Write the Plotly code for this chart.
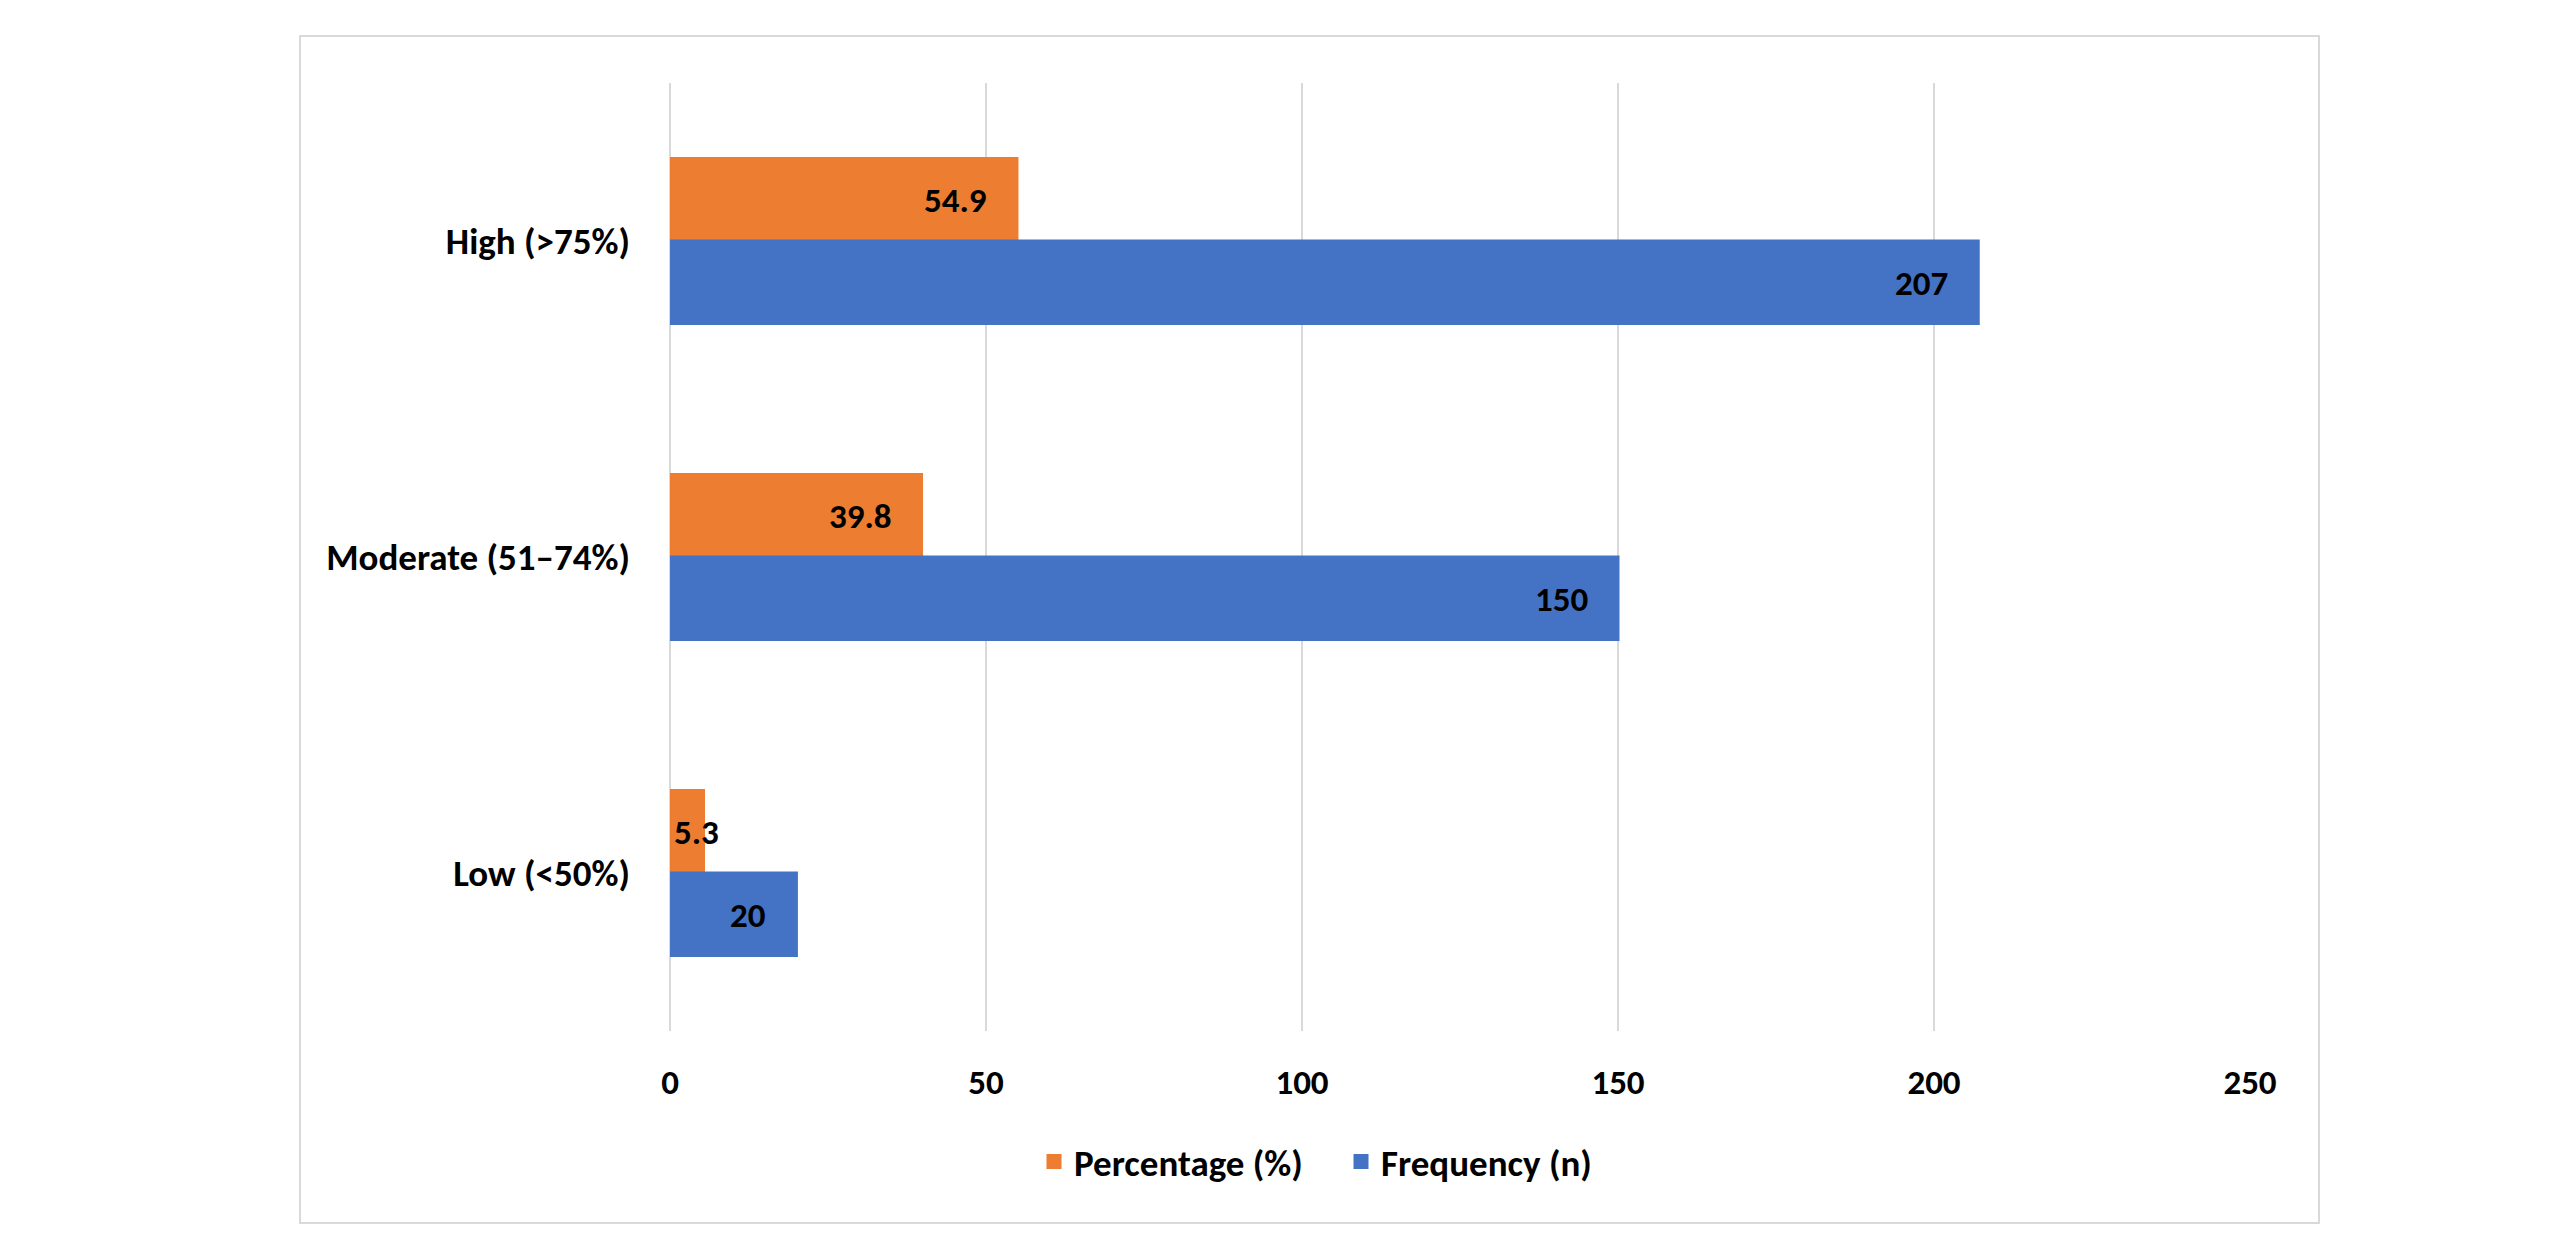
import plotly.graph_objects as go

categories = ["High (>75%)", "Moderate (51–74%)", "Low (<50%)"]
percentage = [54.9, 39.8, 5.3]
frequency = [207, 150, 20]
pct_labels = ["54.9", "39.8", "5.3"]
freq_labels = ["207", "150", "20"]
x_ticks = [0, 50, 100, 150, 200, 250]

ORANGE = "#ED7D31"
BLUE = "#4472C4"
GRID = "#D9D9D9"
FONT = "Carlito, Lato, sans-serif"
FS_TXT = 37
FS_NUM = 35

# page has an 8px body margin; work in page pixels and convert
OFF = 8
W, H = 2560 - OFF, 1260 - 2 * OFF
L, R, T, B = 670 - OFF, 2250 - OFF, 83 - OFF, 1031 - OFF  # plot area in figure px

fig = go.Figure()
fig.add_trace(go.Bar(y=categories, x=percentage, orientation="h", name="Percentage (%)",
                     marker=dict(color=ORANGE, line=dict(width=3, color=ORANGE))))
fig.add_trace(go.Bar(y=categories, x=frequency, orientation="h", name="Frequency (n)",
                     marker=dict(color=BLUE, line=dict(width=3, color=BLUE))))

px_per_unit = (R - L) / 250.0
inset = 28
bar_off = 41.5

num_font = dict(family=FONT, size=FS_NUM, color="black", weight="bold")
txt_font = dict(family=FONT, size=FS_TXT, color="black", weight="bold")

def add_labels(vals, labels, shift):
    for c, v, t in zip(categories, vals, labels):
        if v * px_per_unit - inset < 60:
            fig.add_annotation(x=0, y=c, text=t, xanchor="left", yanchor="middle",
                               xshift=2, yshift=shift, showarrow=False, font=num_font)
        else:
            fig.add_annotation(x=v, y=c, text=t, xanchor="right", yanchor="middle",
                               xshift=-inset, yshift=shift, showarrow=False, font=num_font)

add_labels(percentage, pct_labels, bar_off)
add_labels(frequency, freq_labels, -bar_off)

def px2paper_x(px):
    return (px - OFF - L) / (R - L)

def px2paper_y(py):
    return (B - (py - OFF)) / (B - T)

fig.add_shape(type="rect", xref="paper", yref="paper",
              x0=px2paper_x(300), x1=px2paper_x(2319),
              y0=px2paper_y(1223), y1=px2paper_y(36),
              line=dict(color=GRID, width=2), fillcolor="rgba(0,0,0,0)", layer="below")

fig.update_layout(
    width=W, height=H,
    margin=dict(l=L, r=W - R, t=T, b=H - B, pad=0),
    paper_bgcolor="white", plot_bgcolor="white",
    barmode="group", bargap=0.478, bargroupgap=0,
    font=txt_font,
    showlegend=True,
    legend=dict(orientation="h", x=px2paper_x(1034), xanchor="left",
                y=px2paper_y(1162), yanchor="middle",
                font=txt_font, entrywidth=262, entrywidthmode="pixels",
                itemwidth=30, tracegroupgap=0, bgcolor="rgba(0,0,0,0)"),
    xaxis=dict(range=[0, 250], tickvals=x_ticks, ticktext=[str(v) for v in x_ticks],
               showgrid=True, gridcolor=GRID, gridwidth=2,
               zeroline=True, zerolinecolor=GRID, zerolinewidth=2,
               showline=False, ticks="", ticklabelstandoff=27, tickfont=num_font),
    yaxis=dict(autorange="reversed", showgrid=False, showline=False, ticks="",
               ticklabelstandoff=39, tickfont=txt_font),
)

fig.write_html("out.html")
